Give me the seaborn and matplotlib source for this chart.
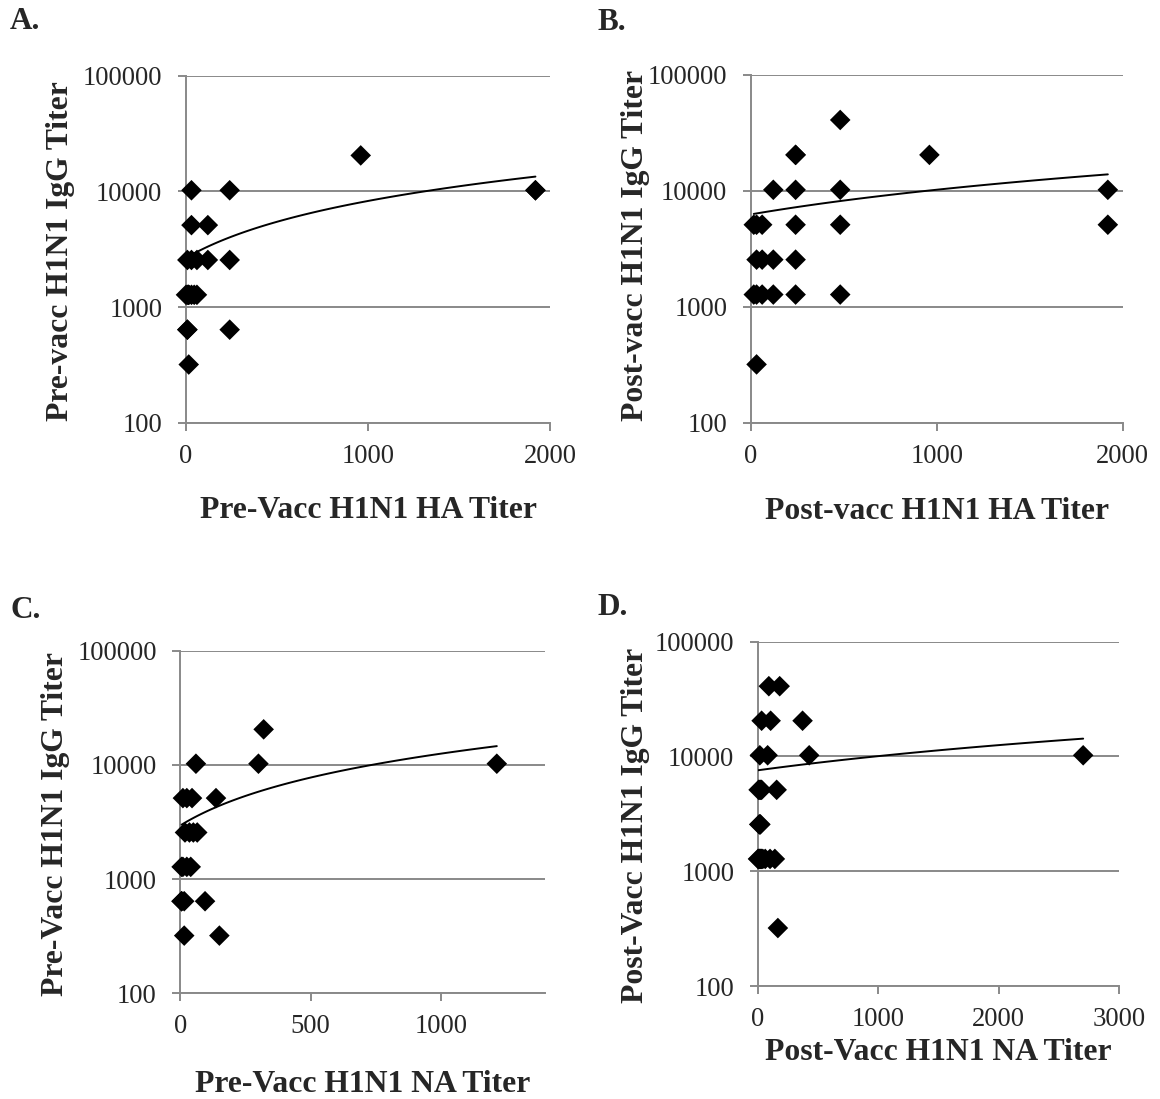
import matplotlib
matplotlib.use("Agg")
import matplotlib.pyplot as plt
from matplotlib.ticker import NullLocator
import numpy as np
import pandas as pd
import seaborn as sns

# ---------------- data ----------------
# Panel A: pre-vacc HA titer vs pre-vacc IgG titer
a_ha = [30, 240, 1920, 1920, 960, 30, 120, 7.5, 30, 60, 120, 240,
        0, 7.5, 15, 15, 30, 45, 60, 7.5, 7.5, 240, 15]
a_igg = [10240, 10240, 10240, 10240, 20480, 5120, 5120, 2560, 2560, 2560, 2560, 2560,
         1280, 1280, 1280, 1280, 1280, 1280, 1280, 640, 640, 640, 320]

# Panel B: post-vacc HA titer vs post-vacc IgG titer
b_ha = [480, 240, 240, 960, 120, 240, 480, 1920, 15, 30, 60, 240, 480, 1920,
        30, 60, 120, 240, 15, 30, 60, 120, 240, 480, 30]
b_igg = [40960, 20480, 20480, 20480, 10240, 10240, 10240, 10240, 5120, 5120, 5120, 5120, 5120, 5120,
         2560, 2560, 2560, 2560, 1280, 1280, 1280, 1280, 1280, 1280, 320]

# Panel C: pre-vacc NA titer vs pre-vacc IgG titer
c_na = [320, 300, 60, 1215, 10, 25, 45, 137, 18, 35, 50, 65,
        5, 25, 40, 10, 5, 15, 95, 5, 15, 150]
c_igg = [20480, 10240, 10240, 10240, 5120, 5120, 5120, 5120, 2560, 2560, 2560, 2560,
         1280, 1280, 1280, 1280, 640, 640, 640, 640, 320, 320]

# Panel D: post-vacc NA titer vs post-vacc IgG titer
d_na = [90, 180, 30, 105, 370, 15, 80, 425, 2700, 15, 155, 5, 20, 30,
        15, 10, 20, 15, 100, 140, 0, 5, 10, 20, 25, 30, 40, 60, 165]
d_igg = [40960, 40960, 20480, 20480, 20480, 10240, 10240, 10240, 10240, 5120, 5120, 5120, 5120, 5120,
         2560, 2560, 2560, 1280, 1280, 1280, 1280, 1280, 1280, 1280, 1280, 1280, 1280, 1280, 320]

y_ticks = [100, 1000, 10000, 100000]
y_ticklabels = ["100", "1000", "10000", "100000"]

panel_letters = ["A.", "B.", "C.", "D."]
x_labels = ["Pre-Vacc H1N1 HA Titer", "Post-vacc H1N1 HA Titer",
            "Pre-Vacc H1N1 NA Titer", "Post-Vacc H1N1 NA Titer"]
y_labels = ["Pre-vacc H1N1 IgG Titer", "Post-vacc H1N1 IgG Titer",
            "Pre-Vacc H1N1 IgG Titer", "Post-Vacc H1N1 IgG Titer"]
x_ticks = [[0, 1000, 2000], [0, 1000, 2000], [0, 500, 1000], [0, 1000, 2000, 3000]]
x_max = [2000, 2000, 1400, 3000]

# ---------------- style ----------------
sns.set_style("white")
plt.rcParams["font.family"] = ["Liberation Serif", "DejaVu Serif"]

GRAY = "#898989"
W, H = 1160, 1099
fig = plt.figure(figsize=(W / 100, H / 100), dpi=100)

# axes boxes in pixels: left, right, top, bottom
boxes = [(186, 550, 75.7, 423), (751, 1122.7, 75, 423),
         (180.3, 545, 650.7, 993.3), (758, 1119.3, 641.7, 986)]
ylabel_pos = [(-0.305, 0.494), (-0.272, 0.51), (-0.302, 0.495), (-0.299, 0.465)]
xlabel_pos = [-0.21, -0.213, -0.225, -0.15]
letter_pos = [(10, 29), (598, 30), (10, 618), (598, 615)]

datasets = [(a_ha, a_igg), (b_ha, b_igg), (c_na, c_igg), (d_na, d_igg)]

for i, (xs, ys) in enumerate(datasets):
    l, r, t, b = boxes[i]
    ax = fig.add_axes([l / W, 1 - b / H, (r - l) / W, (b - t) / H])
    df = pd.DataFrame({"x": xs, "y": ys})

    ax.set_yscale("log")
    sns.scatterplot(data=df, x="x", y="y", ax=ax, marker="D", s=110,
                    color="black", edgecolor="none", linewidth=0,
                    clip_on=False, zorder=3)
    sns.regplot(data=df, x="x", y="y", ax=ax, scatter=False, ci=None,
                color="black", truncate=True,
                line_kws={"lw": 1.4, "zorder": 4})

    ax.set_ylim(100, 100000)
    ax.set_xlim(0, x_max[i])
    ax.set_yticks(y_ticks)
    ax.set_yticklabels(y_ticklabels)
    ax.yaxis.set_minor_locator(NullLocator())
    ax.set_xticks(x_ticks[i])
    ax.set_xticklabels([str(v) for v in x_ticks[i]])

    for side in ["top", "right"]:
        ax.spines[side].set_visible(False)
    for side in ["left", "bottom"]:
        ax.spines[side].set_color(GRAY)
        ax.spines[side].set_linewidth(1.4)
    ax.grid(False)
    ax.yaxis.grid(True, color=GRAY, lw=1.4)
    ax.set_axisbelow(True)

    ax.tick_params(axis="y", direction="out", length=6, width=1.4, color=GRAY,
                   labelsize=19.2, pad=11, left=True)
    ax.tick_params(axis="x", direction="out", length=6, width=1.4, color=GRAY,
                   labelsize=19.2, pad=9, bottom=True)

    ax.set_xlabel(x_labels[i], fontsize=22.8, fontweight="bold")
    ax.set_ylabel(y_labels[i], fontsize=22.8, fontweight="bold")
    ax.xaxis.set_label_coords(0.5, xlabel_pos[i])
    ax.yaxis.set_label_coords(*ylabel_pos[i])

    lx, ly = letter_pos[i]
    fig.text(lx / W, 1 - ly / H, panel_letters[i], fontsize=22.5,
             fontweight="bold", ha="left", va="baseline")

fig.savefig("out.png", dpi=100, facecolor="white")
